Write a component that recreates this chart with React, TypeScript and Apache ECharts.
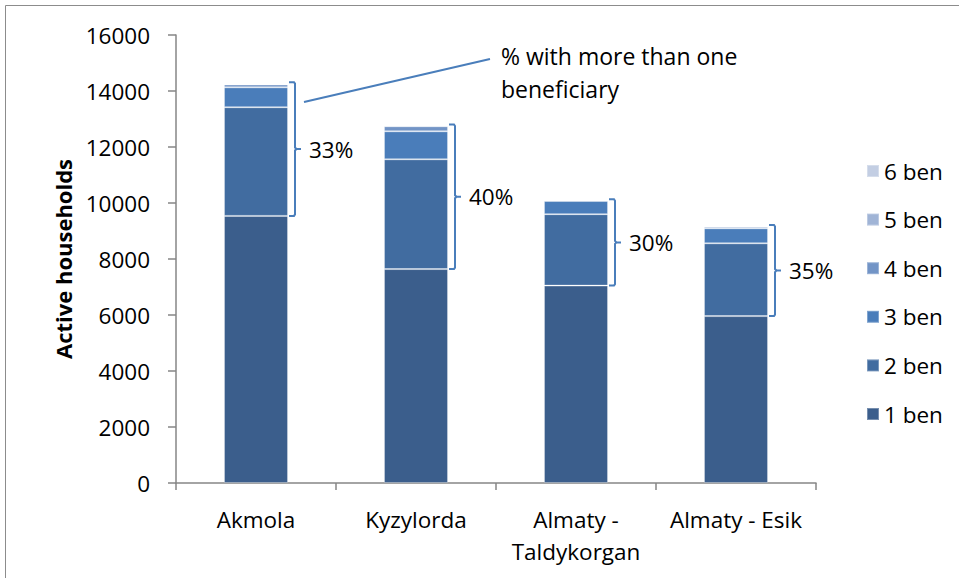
import React, { useEffect, useRef } from "react";
import * as echarts from "echarts";

const categories = ["Akmola", "Kyzylorda", "Almaty -\nTaldykorgan", "Almaty - Esik"];
const seriesNames = ["1 ben", "2 ben", "3 ben", "4 ben", "5 ben", "6 ben"];
const ben1 = [9540, 7640, 7050, 5960];
const ben2 = [3880, 3920, 2550, 2600];
const ben3 = [710, 1000, 470, 535];
const ben4 = [100, 180, 30, 60];
const ben5 = [30, 20, 0, 25];
const ben6 = [20, 10, 0, 0];
const pctLabels = ["33%", "40%", "30%", "35%"];
const yTicks = { min: 0, max: 16000, interval: 2000 };
const colors = ["#3B5E8C", "#416CA0", "#4A7DBA", "#7294C6", "#A0B4D6", "#C3CEE3"];
const noteText = "% with more than one\nbeneficiary";

const FONT = "'Open Sans', 'Noto Sans', sans-serif";
const FS = 22.5;

export default function App() {
  const ref = useRef<HTMLDivElement>(null);
  useEffect(() => {
    document.body.style.margin = "0";
    const chart = echarts.init(ref.current!, null, { renderer: "svg" });
    const values = [ben1, ben2, ben3, ben4, ben5, ben6];
    const totals = ben1.map((_, i) => values.reduce((s, arr) => s + arr[i], 0));
    const bracketData = categories.map((_, i) => [i, ben1[i], totals[i]]);

    const barSeries = seriesNames.map((name, k) => ({
      name,
      type: "bar",
      stack: "total",
      barWidth: "40%",
      data: values[k],
      itemStyle: {
        color: colors[k],
        borderColor: "rgba(255,255,255,0.3)",
        borderWidth: 1,
      },
    }));

    chart.setOption({
      animation: false,
      textStyle: { fontFamily: FONT },
      grid: { left: 176, right: 143, top: 35, bottom: 95 },
      legend: {
        data: [...seriesNames].reverse(),
        orient: "vertical",
        left: 861,
        top: 152,
        icon: "rect",
        itemWidth: 12,
        itemHeight: 12,
        itemGap: 20.6,
        textStyle: { fontSize: FS, color: "#000", fontFamily: FONT, lineHeight: 28 },
      },
      xAxis: {
        type: "category",
        data: categories,
        axisLine: { lineStyle: { color: "#868686", width: 1.5 } },
        axisTick: { show: true, length: 7, alignWithLabel: false, lineStyle: { color: "#868686", width: 1.5 } },
        axisLabel: { fontSize: FS, color: "#000", margin: 20, lineHeight: 32, fontFamily: FONT, interval: 0 },
      },
      yAxis: {
        type: "value",
        min: yTicks.min,
        max: yTicks.max,
        interval: yTicks.interval,
        name: "Active households",
        nameLocation: "middle",
        nameGap: 102,
        nameTextStyle: { fontSize: 22, fontWeight: "bold", color: "#000", fontFamily: FONT },
        axisLine: { show: true, lineStyle: { color: "#868686", width: 1.5 } },
        axisTick: { show: true, length: 8, lineStyle: { color: "#868686", width: 1.5 } },
        axisLabel: { fontSize: FS, color: "#000", margin: 26, fontFamily: FONT, formatter: (v: number) => String(v) },
        splitLine: { show: false },
      },
      series: [
        ...barSeries,
        {
          type: "custom",
          name: "brackets",
          data: bracketData,
          encode: { x: 0, y: [1, 2] },
          z: 5,
          renderItem: (params: any, api: any) => {
            const i = api.value(0);
            const low = api.coord([i, api.value(1)]);
            const high = api.coord([i, api.value(2)]);
            const bw = api.size([1, 0])[0] * 0.4;
            const x = low[0] + bw / 2 + 7;
            const yt = high[1] - 1;
            const yb = low[1];
            const ym = (yt + yb) / 2;
            return {
              type: "group",
              children: [
                {
                  type: "polyline",
                  shape: {
                    points: [
                      [x - 6, yt],
                      [x - 1, yt],
                      [x, yt + 1.5],
                      [x, ym - 1.5],
                      [x + 1.5, ym],
                      [x + 6, ym],
                      [x + 1.5, ym],
                      [x, ym + 1.5],
                      [x, yb - 1.5],
                      [x - 1, yb],
                      [x - 6, yb],
                    ],
                  },
                  style: { stroke: "#4A7EBB", lineWidth: 2, fill: null },
                },
                {
                  type: "text",
                  style: {
                    text: pctLabels[i],
                    x: x + 14,
                    y: ym,
                    verticalAlign: "middle",
                    align: "left",
                    fontSize: FS,
                    fontFamily: FONT,
                    fill: "#000",
                  },
                },
              ],
            };
          },
        },
      ],
      graphic: [
        { type: "line", shape: { x1: 5.5, y1: 5.5, x2: 959, y2: 5.5 }, style: { stroke: "#8c8c8c", lineWidth: 1 } },
        { type: "line", shape: { x1: 5.5, y1: 5.5, x2: 5.5, y2: 578 }, style: { stroke: "#8c8c8c", lineWidth: 1 } },
        { type: "line", shape: { x1: 304, y1: 102, x2: 490, y2: 59 }, style: { stroke: "#4A7EBB", lineWidth: 2 } },
        {
          type: "text",
          x: 501,
          y: 39,
          style: { text: noteText, fontSize: 23, lineHeight: 33, fontFamily: FONT, fill: "#000" },
        },
      ],
    });
    return () => chart.dispose();
  }, []);
  return <div ref={ref} style={{ position: "absolute", left: 0, top: 0, width: 959, height: 578 }} />;
}
